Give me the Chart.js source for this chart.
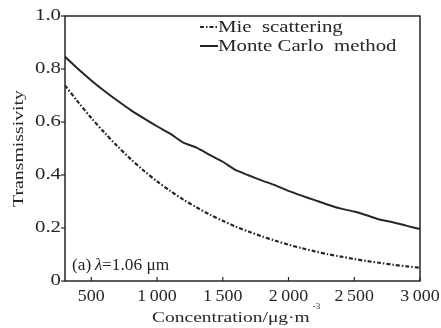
<!DOCTYPE html>
<html>
<head>
<meta charset="utf-8">
<script src="https://cdn.jsdelivr.net/npm/chart.js@4.4.0/dist/chart.umd.min.js"></script>
<style>
    html, body { margin: 0; padding: 0; background: #fff; }
    #wrap { width: 441px; height: 328px; }
</style>
</head>
<body>
<div id="wrap"><canvas id="transChart" width="441" height="328"></canvas></div>
<script>
    // concentration, ug/m^3
    var concentration = [300, 400, 500, 600, 700, 800, 900, 1000, 1100, 1200, 1300, 1400, 1500, 1600,
        1700, 1800, 1900, 2000, 2100, 2200, 2300, 2400, 2500, 2600, 2700, 2800, 2900, 3000];
    var mieValues = [0.738, 0.675, 0.615, 0.560, 0.508, 0.460, 0.416, 0.376, 0.340, 0.307, 0.278, 0.251,
        0.227, 0.205, 0.186, 0.168, 0.152, 0.137, 0.124, 0.112, 0.101, 0.092, 0.083, 0.075, 0.068,
        0.061, 0.055, 0.050];
    var monteCarloValues = [0.846, 0.800, 0.757, 0.717, 0.680, 0.645, 0.614, 0.584, 0.556, 0.522, 0.503,
        0.476, 0.450, 0.418, 0.398, 0.379, 0.361, 0.340, 0.322, 0.305, 0.288, 0.273, 0.262, 0.247,
        0.231, 0.221, 0.208, 0.196];
    var xTickValues = [500, 1000, 1500, 2000, 2500, 3000];
    var yTickValues = [0, 0.2, 0.4, 0.6, 0.8, 1.0];
    var seriesNames = ['Mie  scattering', 'Monte Carlo  method'];

    var ink = '#262626';
    var serif = '"Liberation Serif", "DejaVu Serif", serif';

    function toPoints(xs, ys) {
        return xs.map(function (x, i) { return { x: x, y: ys[i] }; });
    }

    function fmtX(v) {
        // journal style thin space in thousands
        return v >= 1000 ? String(v).slice(0, -3) + '\u2009' + String(v).slice(-3) : String(v);
    }

    // the original lettering is wide, so stretch text along its baseline
    function wideText(ctx, str, x, y, sx, align) {
        var w = ctx.measureText(str).width * sx;
        var x0 = align === 'right' ? x - w : align === 'center' ? x - w / 2 : x;
        ctx.save();
        ctx.translate(x0, y);
        ctx.scale(sx, 1);
        ctx.textAlign = 'left';
        ctx.fillText(str, 0, 0);
        ctx.restore();
        return w;
    }

    // frame, ticks, labels, legend and panel label
    var decorPlugin = {
        id: 'decor',
        afterDatasetsDraw: function (chart) {
            var ctx = chart.ctx;
            var area = chart.chartArea;
            var xs = chart.scales.x;
            var ys = chart.scales.y;
            ctx.save();
            ctx.strokeStyle = ink;
            ctx.fillStyle = ink;
            ctx.lineWidth = 1.5;
            ctx.strokeRect(area.left, area.top, area.right - area.left, area.bottom - area.top);

            // x ticks point inward
            ctx.lineWidth = 1.2;
            ctx.font = '16px ' + serif;
            ctx.textBaseline = 'middle';
            xTickValues.forEach(function (v) {
                var px = xs.getPixelForValue(v);
                ctx.beginPath();
                ctx.moveTo(px, area.bottom);
                ctx.lineTo(px, area.bottom - 4);
                ctx.stroke();
                wideText(ctx, fmtX(v), px, area.bottom + 16, 1.12, 'center');
            });

            // y ticks point outward
            yTickValues.forEach(function (v) {
                var py = ys.getPixelForValue(v);
                ctx.beginPath();
                ctx.moveTo(area.left, py);
                ctx.lineTo(area.left - 4, py);
                ctx.stroke();
                wideText(ctx, v === 0 ? '0' : v.toFixed(1), area.left - 4, py, 1.3, 'right');
            });

            // axis titles
            ctx.font = '15px ' + serif;
            var tw = wideText(ctx, 'Concentration/\u03bcg\u00b7m', 152, 318, 1.3, 'left');
            ctx.font = '9px ' + serif;
            ctx.fillText('-3', 152 + tw + 3, 307);

            ctx.save();
            ctx.translate(19, (area.top + area.bottom) / 2);
            ctx.rotate(-Math.PI / 2);
            ctx.font = '15px ' + serif;
            wideText(ctx, 'Transmissivity', 0, 0, 1.32, 'center');
            ctx.restore();

            // legend
            var lx = area.left + 153;
            var ly = area.top + 11;
            ctx.font = '16px ' + serif;
            chart.data.datasets.forEach(function (ds, i) {
                var y = ly + i * 19;
                ctx.beginPath();
                ctx.setLineDash(ds.borderDash || []);
                ctx.lineWidth = ds.borderWidth;
                ctx.moveTo(lx - 18, y);
                ctx.lineTo(lx, y);
                ctx.stroke();
                ctx.setLineDash([]);
                wideText(ctx, ds.label, lx, y + 1, 1.3, 'left');
            });

            // panel label
            var py = area.bottom - 15;
            var tx = area.left + 7;
            ctx.font = '16px ' + serif;
            tx += wideText(ctx, '(a)\u2009', tx, py, 1.08, 'left');
            ctx.font = 'italic 16px ' + serif;
            tx += wideText(ctx, '\u03bb', tx, py, 1.08, 'left');
            ctx.font = '16px ' + serif;
            wideText(ctx, '=1.06 \u03bcm', tx, py, 1.08, 'left');
            ctx.restore();
        }
    };

    var ctx = document.getElementById('transChart').getContext('2d');
    var chart = new Chart(ctx, {
        type: 'line',
        data: {
            datasets: [{
                label: seriesNames[0],
                data: toPoints(concentration, mieValues),
                borderColor: ink,
                borderWidth: 2.2,
                borderDash: [4, 2, 1.5, 2],
                pointRadius: 0,
                tension: 0.3,
                fill: false
            }, {
                label: seriesNames[1],
                data: toPoints(concentration, monteCarloValues),
                borderColor: ink,
                borderWidth: 2,
                pointRadius: 0,
                tension: 0.2,
                fill: false
            }]
        },
        options: {
            responsive: false,
            animation: false,
            devicePixelRatio: 1,
            layout: { padding: { left: 0, top: 16, right: 21, bottom: 0 } },
            plugins: {
                legend: { display: false },
                tooltip: { enabled: false }
            },
            scales: {
                x: {
                    type: 'linear',
                    min: 300,
                    max: 3000,
                    afterBuildTicks: function (scale) {
                        scale.ticks = xTickValues.map(function (v) { return { value: v }; });
                    },
                    afterFit: function (scale) { scale.height = 47; },
                    grid: { display: false },
                    border: { display: false },
                    ticks: { display: false }
                },
                y: {
                    min: 0,
                    max: 1,
                    afterBuildTicks: function (scale) {
                        scale.ticks = yTickValues.map(function (v) { return { value: v }; });
                    },
                    afterFit: function (scale) { scale.width = 65; },
                    grid: { display: false },
                    border: { display: false },
                    ticks: { display: false }
                }
            }
        },
        plugins: [decorPlugin]
    });
</script>
</body>
</html>
